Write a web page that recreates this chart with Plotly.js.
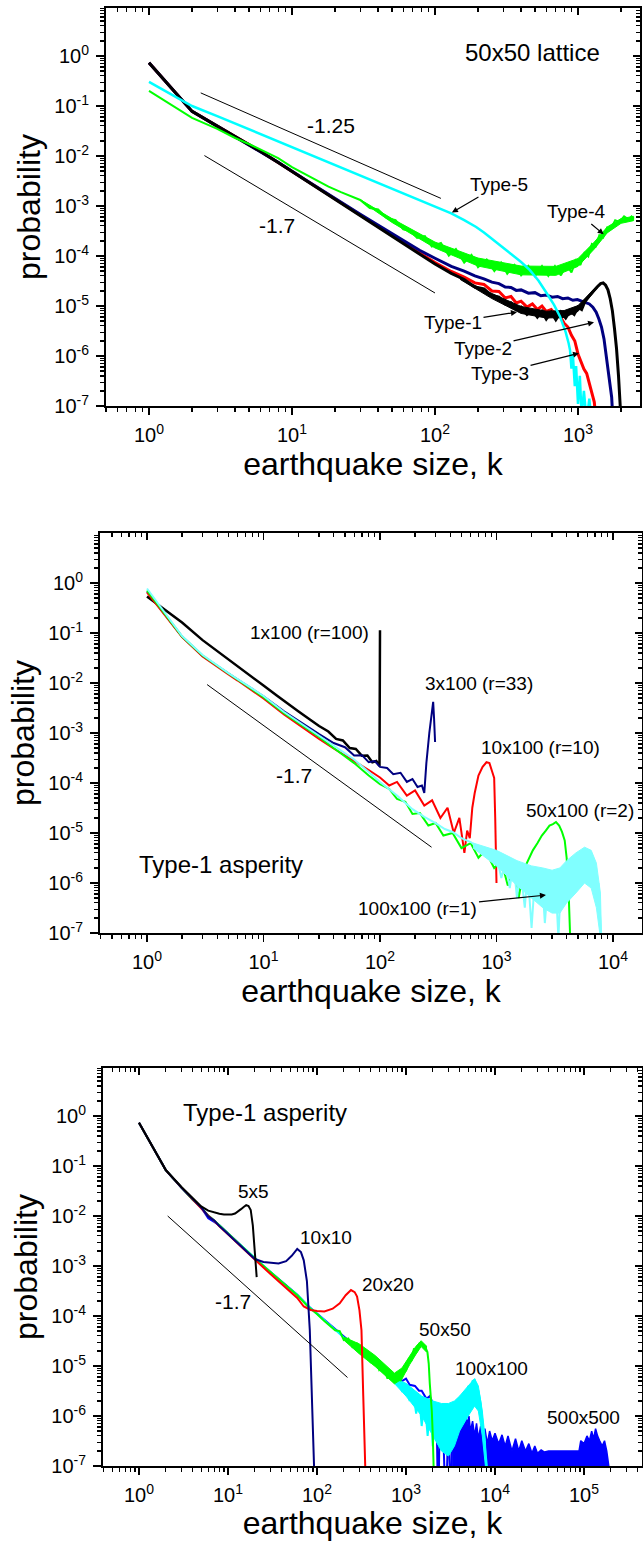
<!DOCTYPE html>
<html><head><meta charset="utf-8">
<script src="https://cdn.plot.ly/plotly-3.0.1.min.js"></script>
<style>html,body{margin:0;padding:0;background:#fff;}#chart{width:643px;height:1541px;}</style>
</head><body><div id="chart"></div>
<script>
// ---------------- Panel 1: 50x50 lattice ----------------
const p1_type1_k = [1,2,3,4,5,6,8,12,20,30,50,78,100,130,160,190,220,250,280,310,340,370,400,440,480,520,560,600,650,700,760,820,880,940,1000,1060,1120,1200,1280,1360,1440,1500,1560,1620,1680,1740,1800,1860,1920,1970,2010];
const p1_type1_p = [0.73,0.078,0.0395,0.0245,0.0165,0.0124,7.4e-3,3.5e-3,1.36e-3,6.4e-4,2.5e-4,1.1e-4,6.9e-5,4.5e-5,3.4e-5,2.4e-5,2.2e-5,1.6e-5,1.5e-5,1.1e-5,1.15e-5,8.5e-6,9.5e-6,6.8e-6,8.2e-6,6.0e-6,7.8e-6,5.5e-6,7.5e-6,5.3e-6,7.6e-6,5.8e-6,8.0e-6,6.8e-6,9.5e-6,8.5e-6,1.25e-5,1.6e-5,2.0e-5,2.4e-5,2.8e-5,2.9e-5,2.6e-5,2.1e-5,1.4e-5,8e-6,3.5e-6,1.4e-6,4e-7,1.3e-7,4e-8];
const p1_type1_band_k = [150,250,400,600,800,1000,1200,1400];
const p1_type1_band_hi = [3.55e-5,1.78e-5,9.8e-6,7.9e-6,8.1e-6,1.02e-5,1.74e-5,2.75e-5];
const p1_type1_band_lo = [3.4e-5,1.41e-5,7.1e-6,5.75e-6,5.9e-6,7.8e-6,1.45e-5,2.5e-5];
const p1_type2_k = [1,2,3,4,5,6,8,12,20,30,50,78,100,130,160,190,220,250,280,310,340,370,400,450,500,550,600,660,720,780,850,920,990,1060,1130,1200,1270,1340,1400,1460,1520,1580,1630,1680,1720,1750];
const p1_type2_p = [0.73,0.078,0.0395,0.0245,0.0166,0.0125,7.5e-3,3.55e-3,1.4e-3,6.8e-4,2.8e-4,1.3e-4,9e-5,6.2e-5,5.0e-5,4.0e-5,3.5e-5,3.0e-5,2.8e-5,2.4e-5,2.35e-5,2.05e-5,2.1e-5,1.8e-5,1.85e-5,1.6e-5,1.65e-5,1.5e-5,1.55e-5,1.4e-5,1.45e-5,1.3e-5,1.35e-5,1.25e-5,1.2e-5,1.1e-5,9.5e-6,7.5e-6,5.5e-6,3.8e-6,2.2e-6,1.0e-6,5.5e-7,2.8e-7,1.5e-7,6e-8];
const p1_type3_k = [1,2,3,4,5,6,8,12,20,30,50,78,100,130,160,190,220,250,280,310,340,370,400,440,480,520,560,600,650,700,750,800,850,900,950,1000,1050,1100,1150,1200,1250,1300,1340];
const p1_type3_p = [0.73,0.078,0.0395,0.0245,0.0165,0.0124,7.4e-3,3.5e-3,1.37e-3,6.5e-4,2.6e-4,1.15e-4,7.4e-5,4.9e-5,3.8e-5,2.9e-5,2.7e-5,2.0e-5,1.95e-5,1.45e-5,1.55e-5,1.15e-5,1.25e-5,9.5e-6,1.1e-5,8.5e-6,1.0e-5,7.8e-6,8.5e-6,6.5e-6,6.2e-6,4.5e-6,3.8e-6,2.6e-6,2.0e-6,1.1e-6,8e-7,5.5e-7,4.5e-7,2.8e-7,2.0e-7,1.2e-7,5e-8];
const p1_type4_k = [1,2,3,4,5,6,8,10,13,18,22,26,30,35,40,46,53,60,67,75,85,95,110,125,140,160,180,200,230,260,290,320,360,400,450,500,560,620,690,760,830,900,970,1040,1110,1180,1250,1330,1410,1500,1600,1700,1820,1950,2100,2250,2370,2450];
const p1_type4_p = [0.2,0.058,0.035,0.0229,0.0174,0.0135,9.1e-3,6.0e-3,4.0e-3,2.45e-3,1.9e-3,1.58e-3,1.32e-3,9.1e-4,8.5e-4,5.75e-4,5.2e-4,3.4e-4,3.2e-4,2.3e-4,2.5e-4,1.55e-4,1.82e-4,1.02e-4,1.38e-4,7.4e-5,1.05e-4,6.0e-5,8.5e-5,5.0e-5,7.4e-5,4.4e-5,6.6e-5,4.1e-5,6.3e-5,4.0e-5,6.3e-5,4.0e-5,6.3e-5,4.1e-5,6.8e-5,4.7e-5,8.3e-5,6.6e-5,1.15e-4,9.8e-5,1.74e-4,1.55e-4,2.6e-4,2.34e-4,3.7e-4,3.5e-4,5.2e-4,4.8e-4,6.2e-4,5.4e-4,6.2e-4,5.6e-4];
const p1_type4_band_k = [30,50,100,200,400,700,1000,1300,1600,2000,2450];
const p1_type4_band_hi = [1.35e-3,5.6e-4,1.9e-4,9.1e-5,6.3e-5,6.2e-5,8.9e-5,1.9e-4,3.8e-4,5.6e-4,6.2e-4];
const p1_type4_band_lo = [1.29e-3,4.7e-4,1.45e-4,6.3e-5,4.2e-5,4.1e-5,6.2e-5,1.38e-4,2.9e-4,4.5e-4,5.1e-4];
const p1_type5_k = [1,2,3,5,8,12,20,30,50,70,100,130,160,194,220,251,290,318,350,400,461,530,603,680,748,820,860,880,900,920,950,970,1000,1030,1060,1100,1150,1200,1260];
const p1_type5_p = [0.305,0.1,0.063,0.0344,0.0197,0.0122,6.6e-3,4.1e-3,2.2e-3,1.48e-3,9.7e-4,7.1e-4,5.2e-4,3.8e-4,2.95e-4,2.2e-4,1.62e-4,1.32e-4,1.05e-4,7.6e-5,5.2e-5,3.2e-5,1.82e-5,1.05e-5,6.2e-6,3.0e-6,1.8e-6,1.3e-6,5.6e-7,1.1e-6,2.5e-7,6.3e-7,1.1e-7,4e-7,6.3e-8,2e-7,5e-8,1.4e-7,3e-8];
const p1_slope125_k = [2.3,110];
const p1_slope125_p = [0.183,1.42e-3];
const p1_slope17_k = [2.44,100];
const p1_slope17_p = [0.0102,1.82e-5];

// ---------------- Panel 2: Type-1 asperity, rectangles ----------------
const p2_1x100_k = [1,2,3,4,5,6,8,10,13,16,20,25,30,36,42,48,55,62,70,78,86,93,99,100];
const p2_1x100_p = [0.54,0.162,0.072,0.044,0.0295,0.0219,0.0132,8.9e-3,5.6e-3,4.0e-3,2.7e-3,1.86e-3,1.38e-3,1.07e-3,7.6e-4,7.1e-4,5.0e-4,4.8e-4,3.5e-4,3.55e-4,2.6e-4,2.75e-4,2.2e-4,0.113];
const p2_3x100_k = [1,2,3,4,5,6,8,10,15,20,30,40,50,60,70,80,90,100,115,130,150,170,190,210,229,240,250,265,278,286,291,297];
const p2_3x100_p = [0.676,0.085,0.0347,0.0219,0.0155,0.0117,7.6e-3,5.4e-3,2.7e-3,1.74e-3,9.5e-4,6.3e-4,5.2e-4,3.55e-4,3.6e-4,2.6e-4,2.75e-4,2.1e-4,2.0e-4,1.5e-4,1.6e-4,1.05e-4,1.2e-4,8.3e-5,8.9e-5,6.3e-5,2.5e-4,1.0e-3,2.6e-3,4.2e-3,2.0e-3,6.6e-4];
const p2_10x100_k = [1,2,3,4,5,6,8,10,15,20,30,40,60,80,100,120,140,170,200,240,280,330,380,430,480,530,560,590,620,650,700,760,820,870,920,955,975,990,1000];
const p2_10x100_p = [0.646,0.083,0.0339,0.0209,0.0148,0.0112,7.1e-3,4.9e-3,2.34e-3,1.45e-3,7.6e-4,4.9e-4,2.8e-4,1.82e-4,1.29e-4,8.9e-5,1.05e-4,5.6e-5,7.1e-5,3.55e-5,4.5e-5,2.0e-5,3.2e-5,1.0e-5,2.0e-5,4.0e-6,1.12e-5,7.9e-6,3.2e-5,6.3e-5,1.41e-4,2.1e-4,2.6e-4,2.5e-4,1.66e-4,1.26e-4,2.0e-5,5.0e-6,1.0e-6];
const p2_50x100_k = [1,2,3,4,5,6,8,10,15,20,30,40,60,80,100,120,140,165,190,220,260,300,350,420,500,600,700,800,955,1100,1250,1400,1550,1700,1870,2050,2250,2450,2650,2850,3050,3240,3450,3650,3850,4000,4150,4250,4320];
const p2_50x100_p = [0.708,0.085,0.0355,0.0219,0.0155,0.0117,7.4e-3,5.2e-3,2.5e-3,1.58e-3,8.3e-4,5.0e-4,2.5e-4,1.41e-4,9.5e-5,7.6e-5,4.8e-5,4.2e-5,2.4e-5,2.5e-5,1.41e-5,1.58e-5,8.9e-6,1.0e-5,5.0e-6,6.3e-6,3.2e-6,4.5e-6,2.0e-6,2.8e-6,8.9e-7,1.78e-6,5.0e-7,1.78e-6,2.8e-6,4.5e-6,6.3e-6,8.9e-6,1.12e-5,1.41e-5,1.51e-5,1.66e-5,1.41e-5,1.05e-5,7.1e-6,3.2e-6,7.9e-7,2.5e-7,5e-8];
const p2_100x100_k = [1,2,3,4,5,6,8,10,15,20,30,40,60,80,100,140,190,240,300,360,420,500,600,720,850,955,1000,1100,1200,1300,1400,1500,1600,1750,1850,2000,2150,2300,2450,2600,2800,3000,3200,3400,3600,3800,4000,4300,4600,4900,5200,5500,5700,6000,6300,6600,6900,7200,7500,7800,8000];
const p2_100x100_p = [0.776,0.087,0.0363,0.0224,0.0158,0.012,7.8e-3,5.5e-3,2.63e-3,1.66e-3,8.7e-4,5.6e-4,2.95e-4,1.66e-4,1.05e-4,5.6e-5,3.0e-5,2.1e-5,1.58e-5,1.2e-5,1.05e-5,7.9e-6,6.6e-6,5.0e-6,4.5e-6,3.9e-6,3.55e-6,1.26e-6,2.8e-6,7.9e-7,2.5e-6,5.0e-7,2.0e-6,3.2e-7,1.78e-6,1.26e-7,1.58e-6,4.0e-7,1.41e-6,1.58e-7,1.41e-6,3.2e-7,1.26e-6,7.9e-8,1.58e-6,4.0e-7,2.0e-6,6.3e-7,2.8e-6,1.26e-6,4.0e-6,2.5e-6,5.0e-6,3.2e-6,4.0e-6,1.26e-6,2.5e-6,5.0e-7,1.0e-6,1.58e-7,5e-8];
const p2_100x100_band_k = [630,1000,1500,2000,2500,3000,3500,4000,4800,5700,6500,7200,7800,8000];
const p2_100x100_band_hi = [6.3e-6,4.5e-6,2.8e-6,2.2e-6,2.0e-6,1.8e-6,2.0e-6,2.8e-6,4.0e-6,5.2e-6,4.5e-6,2.5e-6,6.3e-7,1.0e-7];
const p2_100x100_band_lo = [5.0e-6,2.2e-6,8.9e-7,5.0e-7,3.2e-7,2.5e-7,2.5e-7,4.0e-7,6.3e-7,1.0e-6,7.9e-7,3.2e-7,7.9e-8,6.3e-8];
const p2_slope_k = [3.28,277];
const p2_slope_p = [9.3e-3,5.2e-6];

// ---------------- Panel 3: Type-1 asperity, squares ----------------
const p3_5x5_k = [1,2,3,4,5,6,7,8,9,10,11,12,13,14,15,16,17,18,19,20,21];
const p3_5x5_p = [0.735,0.083,0.038,0.023,0.0155,0.0128,0.0117,0.0111,0.0107,0.0106,0.0107,0.0112,0.0122,0.0137,0.0152,0.0165,0.0158,0.0132,6.5e-3,1.7e-3,6.0e-4];
const p3_10x10_k = [1,2,3,4,5,6,7,8,10,12,15,20,25,30,37,45,52,60,66,71,77,83,88,93];
const p3_10x10_p = [0.735,0.083,0.037,0.0215,0.0148,0.0098,8.1e-3,6.3e-3,4.4e-3,3.25e-3,2.25e-3,1.38e-3,1.2e-3,1.15e-3,1.12e-3,1.25e-3,1.6e-3,2.2e-3,1.9e-3,1.3e-3,5e-4,5.2e-5,3e-6,8e-8];
const p3_20x20_k = [1,2,3,4,5,6,7,8,10,12,15,20,30,45,60,71,85,100,121,150,180,210,241,265,282,300,316,331,345,352];
const p3_20x20_p = [0.735,0.083,0.037,0.0215,0.0148,0.0101,8.0e-3,6.2e-3,4.3e-3,3.2e-3,2.2e-3,1.35e-3,6.9e-4,3.6e-4,2.3e-4,1.55e-4,1.32e-4,1.26e-4,1.23e-4,1.4e-4,1.8e-4,2.6e-4,3.3e-4,3.0e-4,2.45e-4,1.3e-4,5.2e-5,2.5e-6,3e-7,5e-8];
const p3_50x50_k = [1,2,3,4,5,6,7,8,10,12,15,20,30,45,60,79,100,121,140,160,180,200,225,250,280,316,350,400,450,500,560,620,680,741,800,870,940,1000,1080,1150,1230,1320,1400,1480,1560,1650,1740,1800,1850,1900,1950,2000,2040,2070];
const p3_50x50_p = [0.735,0.083,0.037,0.0214,0.0148,0.0102,8.1e-3,6.5e-3,4.5e-3,3.3e-3,2.3e-3,1.41e-3,7.6e-4,4.0e-4,2.6e-4,1.55e-4,1.1e-4,7.9e-5,6.3e-5,5.2e-5,5.0e-5,3.3e-5,3.55e-5,2.4e-5,2.8e-5,1.74e-5,1.9e-5,1.2e-5,1.41e-5,8.3e-6,1.0e-5,5.6e-6,7.9e-6,4.8e-6,7.1e-6,5.0e-6,8.9e-6,7.9e-6,1.41e-5,1.26e-5,2.24e-5,2.0e-5,2.8e-5,2.8e-5,2.6e-5,2.4e-5,1.9e-5,1.12e-5,4.5e-6,2.5e-6,1.26e-6,4.0e-7,1.0e-7,4e-8];
const p3_50x50_band_k = [200,300,450,600,741,900,1100,1300,1480,1700];
const p3_50x50_band_hi = [3.8e-5,2.75e-5,1.62e-5,1.02e-5,7.2e-6,9.1e-6,1.62e-5,2.5e-5,3.2e-5,2.5e-5];
const p3_50x50_band_lo = [3.3e-5,1.74e-5,9.8e-6,6.2e-6,4.4e-6,5.5e-6,1.07e-5,1.74e-5,2.45e-5,1.9e-5];
const p3_100x100_k = [1,2,3,4,5,6,7,8,10,12,15,20,30,45,60,79,100,121,160,200,250,316,400,500,580,660,740,820,900,1000,1100,1200,1300,1400,1500,1620,1750,1880,2000,2150,2300,2500,2700,2900,3100,3300,3550,3800,4100,4400,4700,5000,5300,5600,5900,6200,6500,6900,7200,7500,7800,8100,8300];
const p3_100x100_p = [0.735,0.083,0.037,0.0214,0.0148,0.0102,8.1e-3,6.4e-3,4.45e-3,3.3e-3,2.3e-3,1.4e-3,7.6e-4,4.0e-4,2.65e-4,1.6e-4,1.12e-4,8.1e-5,5.3e-5,3.7e-5,2.7e-5,2.05e-5,1.48e-5,1.08e-5,7.6e-6,6.3e-6,4.7e-6,5.0e-6,3.2e-6,3.8e-6,2.0e-6,3.2e-6,1.12e-6,2.5e-6,6.3e-7,2.0e-6,4.0e-7,1.58e-6,2.5e-7,1.41e-6,3.2e-7,1.26e-6,2.0e-7,1.41e-6,4.0e-7,1.58e-6,5.0e-7,2.0e-6,7.9e-7,2.8e-6,1.58e-6,4.0e-6,3.2e-6,5.0e-6,5.2e-6,3.55e-6,3.2e-6,1.78e-6,7.9e-7,4.0e-7,2.5e-7,1.0e-7,4e-8];
const p3_100x100_band_k = [700,1000,1500,2000,2500,3000,3500,4000,5000,5900,6500,7200,7800,8100];
const p3_100x100_band_hi = [5.9e-6,4.5e-6,2.5e-6,2.0e-6,1.78e-6,1.78e-6,2.0e-6,2.5e-6,4.0e-6,5.6e-6,4.0e-6,1.26e-6,3.2e-7,1.0e-7];
const p3_100x100_band_lo = [5.0e-6,2.5e-6,1.0e-6,4.0e-7,2.0e-7,1.58e-7,2.5e-7,5.0e-7,1.0e-6,1.58e-6,1.26e-6,4.0e-7,1.0e-7,6.3e-8];
const p3_500x500_k = [1,2,3,4,5,6,7,8,10,12,15,20,30,45,60,79,100,121,160,200,250,316,400,500,600,700,800,900,1000,1100,1260,1400,1500,1700,1850,2000,2200,2300,2400,2600,2800,3000,3200,3300];
const p3_500x500_p = [0.735,0.083,0.037,0.0214,0.0148,9.0e-3,7.6e-3,6.5e-3,4.5e-3,3.3e-3,2.3e-3,1.41e-3,7.6e-4,4.0e-4,2.65e-4,1.6e-4,1.12e-4,8.2e-5,5.4e-5,3.8e-5,2.8e-5,2.1e-5,1.5e-5,1.1e-5,8.5e-6,6.5e-6,7.0e-6,5.0e-6,5.6e-6,4.2e-6,4.0e-6,3.2e-6,3.2e-6,2.2e-6,2.5e-6,1.8e-6,1.6e-6,1e-8,1.26e-6,8e-7,1e-8,1.0e-6,1e-8,5e-7];
const p3_500x500_tail_k = [3300,3500,3700,3900,4100,4300,4500,4700,4900,5100,5300,5600,5900,6200,6500,6900,7300,7700,8200,8700,9300,10000,11000,12000,13000,14000,15500,17000,18500,20000,22000,24000,26000,28000,30000,33000,36000,40000,50000,60000,70000,80000,88000,92000,100000,108000,115000,122000,128000,135000,142000,150000,160000,170000,180000,190000];
const p3_500x500_tail_p = [5.0e-7,7.9e-7,2.5e-7,8.9e-7,5.0e-7,1.0e-6,6.3e-7,9.5e-7,7.1e-7,1.0e-6,5.0e-7,7.9e-7,4.0e-7,7.1e-7,3.5e-7,6.3e-7,3.2e-7,5.6e-7,2.8e-7,5.0e-7,3.2e-7,4.5e-7,2.8e-7,4.2e-7,2.5e-7,4.0e-7,2.0e-7,3.5e-7,2.0e-7,3.2e-7,2.0e-7,2.8e-7,1.8e-7,2.5e-7,1.8e-7,2.1e-7,1.9e-7,2.0e-7,2.0e-7,2.0e-7,2.0e-7,2.0e-7,2.0e-7,3.2e-7,2.8e-7,4.0e-7,3.2e-7,5.0e-7,3.5e-7,5.6e-7,4.0e-7,3.2e-7,2.5e-7,3.2e-7,2.0e-7,1.0e-7];
const p3_slope_k = [2.1,220];
const p3_slope_p = [0.01,5.9e-6];

// ---------------- tick labels ----------------
const yTickVals = [1e-7,1e-6,1e-5,1e-4,1e-3,1e-2,1e-1,1];
const yTickText = ['10<sup>-7</sup>','10<sup>-6</sup>','10<sup>-5</sup>','10<sup>-4</sup>','10<sup>-3</sup>','10<sup>-2</sup>','10<sup>-1</sup>','10<sup>0</sup>'];
const xTickVals = [1,10,100,1000,10000,100000];
const xTickText = ['10<sup>0</sup>','10<sup>1</sup>','10<sup>2</sup>','10<sup>3</sup>','10<sup>4</sup>','10<sup>5</sup>'];

const FONT = 'Liberation Sans, Arial, Helvetica, sans-serif';

function minorVals(lo, hi) {
  const v = [];
  for (let e = lo; e <= hi; e++) for (let m = 2; m <= 9; m++) v.push(m * Math.pow(10, e));
  return v;
}
function line(k, p, color, width, xa, ya, extra) {
  return Object.assign({type:'scatter', mode:'lines', x:k, y:p, xaxis:xa, yaxis:ya,
    line:{color:color, width:width}, hoverinfo:'skip', showlegend:false}, extra || {});
}
function band(k, lo, hi, color, xa, ya) {
  return {type:'scatter', mode:'lines', x:k.concat(k.slice().reverse()), y:hi.concat(lo.slice().reverse()),
    xaxis:xa, yaxis:ya, fill:'toself', fillcolor:color, line:{color:color, width:1},
    hoverinfo:'skip', showlegend:false};
}

const traces = [
  // panel 1
  line(p1_type3_k, p1_type3_p, '#ff0000', 3, 'x', 'y'),
  line(p1_type2_k, p1_type2_p, '#000080', 3, 'x', 'y'),
  band(p1_type1_band_k, p1_type1_band_lo, p1_type1_band_hi, '#000000', 'x', 'y'),
  line(p1_type1_k, p1_type1_p, '#000000', 3, 'x', 'y'),
  band(p1_type4_band_k, p1_type4_band_lo, p1_type4_band_hi, '#00ff00', 'x', 'y'),
  line(p1_type4_k, p1_type4_p, '#00ff00', 2, 'x', 'y'),
  line(p1_type5_k, p1_type5_p, '#00ffff', 2.5, 'x', 'y'),
  line(p1_slope125_k, p1_slope125_p, '#000000', 1, 'x4', 'y4'),
  line(p1_slope17_k, p1_slope17_p, '#000000', 1, 'x4', 'y4'),
  // panel 2
  line(p2_1x100_k, p2_1x100_p, '#000000', 2.5, 'x2', 'y2'),
  line(p2_3x100_k, p2_3x100_p, '#000080', 2, 'x2', 'y2'),
  line(p2_10x100_k, p2_10x100_p, '#ff0000', 2, 'x2', 'y2'),
  line(p2_50x100_k, p2_50x100_p, '#00ff00', 2, 'x2', 'y2'),
  band(p2_100x100_band_k, p2_100x100_band_lo, p2_100x100_band_hi, '#80ffff', 'x2', 'y2'),
  line(p2_100x100_k, p2_100x100_p, '#80ffff', 2, 'x2', 'y2'),
  line(p2_slope_k, p2_slope_p, '#000000', 1, 'x5', 'y5'),
  // panel 3
  line(p3_500x500_k, p3_500x500_p, '#0000ff', 2, 'x3', 'y3'),
  line(p3_500x500_tail_k, p3_500x500_tail_p, '#0000ff', 1.5, 'x3', 'y3', {fill:'tozeroy', fillcolor:'#0000ff'}),
  band(p3_100x100_band_k, p3_100x100_band_lo, p3_100x100_band_hi, '#00ffff', 'x3', 'y3'),
  line(p3_100x100_k, p3_100x100_p, '#00ffff', 2, 'x3', 'y3'),
  band(p3_50x50_band_k, p3_50x50_band_lo, p3_50x50_band_hi, '#00ff00', 'x3', 'y3'),
  line(p3_50x50_k, p3_50x50_p, '#00ff00', 2, 'x3', 'y3'),
  line(p3_20x20_k, p3_20x20_p, '#ff0000', 2, 'x3', 'y3'),
  line(p3_10x10_k, p3_10x10_p, '#000080', 2, 'x3', 'y3'),
  line(p3_5x5_k, p3_5x5_p, '#000000', 2, 'x3', 'y3'),
  line(p3_slope_k, p3_slope_p, '#000000', 1, 'x6', 'y6')
];

function bottomAxis(domain, range, anchor, nTicks) {
  return {type:'log', domain:domain, range:range, anchor:anchor,
    tickmode:'array', tickvals:xTickVals.slice(0, nTicks), ticktext:xTickText.slice(0, nTicks),
    ticks:'outside', ticklen:7, tickwidth:1.5, tickcolor:'#000', ticklabelstandoff:3,
    showline:true, linewidth:2, linecolor:'#000', showgrid:false, zeroline:false, mirror:false,
    tickfont:{family:FONT, size:20, color:'#000'},
    minor:{tickmode:'array', tickvals:minorVals(-1, 5), ticks:'outside', ticklen:4, tickwidth:1.2, tickcolor:'#000', showgrid:false},
    title:{text:'earthquake size, k', font:{family:FONT, size:32, color:'#000'}, standoff:6}};
}
function leftAxis(domain, range, anchor) {
  return {type:'log', domain:domain, range:range, anchor:anchor,
    tickmode:'array', tickvals:yTickVals, ticktext:yTickText,
    ticks:'outside', ticklen:8, tickwidth:1.5, tickcolor:'#000', ticklabelstandoff:3,
    showline:true, linewidth:2, linecolor:'#000', showgrid:false, zeroline:false, mirror:false,
    tickfont:{family:FONT, size:20, color:'#000'},
    minor:{tickmode:'array', tickvals:minorVals(-8, 1), ticks:'outside', ticklen:4, tickwidth:1.2, tickcolor:'#000', showgrid:false},
    title:{text:'probability', font:{family:FONT, size:32, color:'#000'}, standoff:4}};
}
function topAxis(base, domain, range, anchor) {
  return {type:'log', overlaying:base, side:'top', domain:domain, range:range, anchor:anchor,
    tickmode:'array', tickvals:xTickVals, showticklabels:false,
    ticks:'inside', ticklen:7, tickwidth:1.5, tickcolor:'#000',
    showline:true, linewidth:2, linecolor:'#000', showgrid:false, zeroline:false,
    minor:{tickmode:'array', tickvals:minorVals(-1, 5), ticks:'inside', ticklen:4, tickwidth:1.2, tickcolor:'#000', showgrid:false}};
}
function rightAxis(base, domain, range, anchor) {
  return {type:'log', overlaying:base, side:'right', domain:domain, range:range, anchor:anchor,
    tickmode:'array', tickvals:yTickVals, showticklabels:false,
    ticks:'inside', ticklen:7, tickwidth:1.5, tickcolor:'#000',
    showline:true, linewidth:2, linecolor:'#000', showgrid:false, zeroline:false,
    minor:{tickmode:'array', tickvals:minorVals(-8, 1), ticks:'inside', ticklen:4, tickwidth:1.2, tickcolor:'#000', showgrid:false}};
}

const d1x = [0.16485, 0.99533], d1y = [0.73653, 0.99481], r1x = [-0.3007, 3.4336], r1y = [-7, 0.96];
const d2x = [0.15552, 0.99844], d2y = [0.39455, 0.65412], r2x = [-0.4034, 4.2489], r2y = [-7, 1.0];
const d3x = [0.16019, 0.99844], d3y = [0.04867, 0.30694], r3x = [-0.4045, 5.6517], r3y = [-7, 0.96];

function txt(text, x, y, xa, ya, size) {
  return {text:text, x:x, y:y, xref:xa, yref:ya, showarrow:false, xanchor:'center', yanchor:'middle',
    font:{family:FONT, size:size, color:'#000'}};
}
function arr(text, tipx, tipy, tx, ty, xa, ya, size) {
  return {text:text, x:tipx, y:tipy, xref:xa, yref:ya, ax:tx, ay:ty, axref:xa, ayref:ya,
    showarrow:true, arrowhead:2, arrowsize:1, arrowwidth:1.2, arrowcolor:'#000', standoff:1,
    font:{family:FONT, size:size, color:'#000'}};
}

const annotations = [
  txt('50x50 lattice', 2.685, 0.06, 'x', 'y', 24),
  txt('-1.25', 1.273, -1.40, 'x', 'y', 21),
  txt('-1.7', 0.895, -3.38, 'x', 'y', 21),
  arr('Type-5', 2.112, -3.14, 2.448, -2.58, 'x', 'y', 19),
  arr('Type-4', 3.185, -3.58, 2.993, -3.12, 'x', 'y', 19),
  arr('Type-1', 2.580, -5.12, 2.126, -5.32, 'x', 'y', 19),
  arr('Type-2', 3.119, -5.32, 2.336, -5.84, 'x', 'y', 19),
  arr('Type-3', 3.014, -5.94, 2.455, -6.34, 'x', 'y', 19),

  txt('1x100 (r=100)', 1.391, -0.98, 'x2', 'y2', 19),
  txt('3x100 (r=33)', 2.85, -2.0, 'x2', 'y2', 19),
  txt('10x100 (r=10)', 3.382, -3.28, 'x2', 'y2', 19),
  txt('50x100 (r=2)', 3.717, -4.54, 'x2', 'y2', 19),
  txt('-1.7', 1.262, -3.84, 'x2', 'y2', 21),
  txt('Type-1 asperity', 0.635, -5.62, 'x2', 'y2', 24),
  arr('100x100 (r=1)', 3.433, -6.24, 2.326, -6.5, 'x2', 'y2', 19),

  txt('Type-1 asperity', 1.416, 0.08, 'x3', 'y3', 24),
  txt('5x5', 1.281, -1.5, 'x3', 'y3', 19),
  txt('10x10', 2.101, -2.42, 'x3', 'y3', 19),
  txt('20x20', 2.798, -3.36, 'x3', 'y3', 19),
  txt('-1.7', 1.051, -3.7, 'x3', 'y3', 21),
  txt('50x50', 3.438, -4.26, 'x3', 'y3', 19),
  txt('100x100', 3.966, -5.04, 'x3', 'y3', 19),
  txt('500x500', 4.994, -6.04, 'x3', 'y3', 19)
];

const layout = {
  width:643, height:1541, margin:{l:0, r:0, t:0, b:0},
  paper_bgcolor:'#fff', plot_bgcolor:'rgba(0,0,0,0)', showlegend:false,
  font:{family:FONT, color:'#000'},
  xaxis: bottomAxis(d1x, r1x, 'y', 4),
  yaxis: leftAxis(d1y, r1y, 'x'),
  xaxis2: bottomAxis(d2x, r2x, 'y2', 5),
  yaxis2: leftAxis(d2y, r2y, 'x2'),
  xaxis3: bottomAxis(d3x, r3x, 'y3', 6),
  yaxis3: leftAxis(d3y, r3y, 'x3'),
  xaxis4: topAxis('x', d1x, r1x, 'y4'),
  yaxis4: rightAxis('y', d1y, r1y, 'x4'),
  xaxis5: topAxis('x2', d2x, r2x, 'y5'),
  yaxis5: rightAxis('y2', d2y, r2y, 'x5'),
  xaxis6: topAxis('x3', d3x, r3x, 'y6'),
  yaxis6: rightAxis('y3', d3y, r3y, 'x6'),
  annotations: annotations
};

Plotly.newPlot('chart', traces, layout, {displayModeBar:false, staticPlot:true});
</script></body></html>
